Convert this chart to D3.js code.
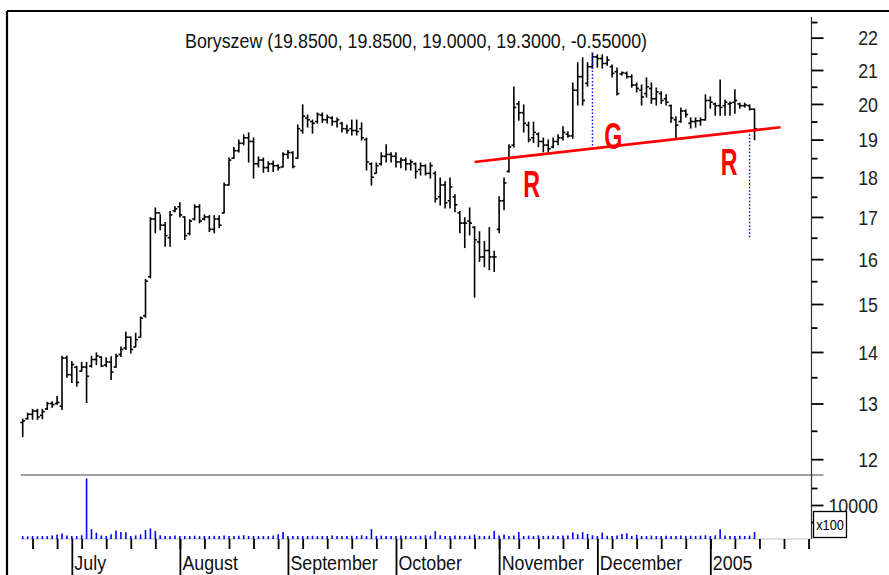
<!DOCTYPE html>
<html>
<head>
<meta charset="utf-8">
<script src="https://cdn.jsdelivr.net/npm/d3@7"></script>
<style>
  body { margin: 0; background: #fff; }
  svg { display: block; font-family: "Liberation Sans", Arial, sans-serif; }
  .axis path.domain { display: none; }
</style>
</head>
<body>
<div id="chart"></div>
<script>
var svgWidth = 889;
var svgHeight = 575;

var titleText = "Boryszew (19.8500, 19.8500, 19.0000, 19.3000, -0.55000)";

// trading days: weekdays from 17 Jun 2004, without Polish market holidays
var firstDay = new Date(2004, 5, 17);
var lastAxisDay = new Date(2005, 0, 31);
var holidays = ["2004-11-01", "2004-11-11"];

var monthLabels = ["July", "August", "September", "October", "November", "December", "2005"];
var priceTicks = [12, 13, 14, 15, 16, 17, 18, 19, 20, 21, 22];
var priceMinor = [12.5, 13.5, 14.5, 15.5, 16.5, 17.5, 18.5, 19.5, 20.5, 21.5, 22.5];
var volTicks = [10000];
var volMinor = [5000, 15000];

var open = [
  12.65, 12.72, 12.80, 12.86, 12.78, 12.90, 13.00, 13.00, 12.95, 13.88,
  13.55, 13.70, 13.62, 13.70, 13.72, 13.85, 13.90, 13.74, 13.80, 13.70,
  13.95, 14.08, 14.30, 14.10, 14.30, 14.75, 15.60, 16.95, 17.10, 16.80,
  16.50, 17.15, 17.25, 17.00, 16.60, 16.95, 17.25, 16.95, 17.00, 16.70,
  16.95, 17.10, 17.80, 18.50, 18.70, 18.90, 19.05, 18.95, 18.35, 18.45,
  18.25, 18.35, 18.30, 18.27, 18.60, 18.65, 18.50, 19.25, 19.60, 19.50,
  19.50, 19.68, 19.55, 19.60, 19.50, 19.45, 19.30, 19.30, 19.25, 19.30,
  19.00, 18.35, 18.10, 18.35, 18.55, 18.60, 18.55, 18.40, 18.45, 18.35,
  18.35, 18.20, 18.30, 18.10, 18.10, 17.50, 17.80, 17.40, 17.50, 17.10,
  16.85, 16.90, 16.75, 16.40, 16.05, 16.20, 16.05, 16.70, 17.40, 18.15,
  18.85, 20.00, 19.75, 19.40, 19.05, 19.15, 18.95, 18.85, 18.80, 18.95,
  19.05, 19.15, 19.10, 20.40, 20.80, 20.60, 21.10, 21.40, 21.35, 21.20,
  21.10, 20.95, 20.88, 20.90, 20.80, 20.55, 20.40, 20.30, 20.45, 20.15,
  20.30, 20.15, 19.95, 19.55, 19.50, 19.80, 19.45, 19.50, 19.52, 19.55,
  20.10, 20.00, 19.95, 19.95, 20.00, 20.05, 20.00, 19.95, 19.95, 19.85
];
var high = [
  12.71, 12.82, 12.89, 12.89, 12.89, 13.02, 13.03, 13.13, 13.91, 13.91,
  13.81, 13.71, 13.79, 13.79, 13.91, 13.98, 13.90, 13.88, 13.90, 13.95,
  14.10, 14.40, 14.30, 14.38, 14.72, 15.54, 16.98, 17.22, 17.05, 16.86,
  17.13, 17.25, 17.35, 17.00, 16.93, 17.30, 17.30, 17.05, 17.03, 17.03,
  17.03, 17.85, 18.50, 18.78, 18.99, 19.13, 19.18, 19.04, 18.53, 18.50,
  18.40, 18.42, 18.32, 18.64, 18.70, 18.67, 19.40, 19.97, 19.68, 19.54,
  19.74, 19.74, 19.68, 19.63, 19.60, 19.48, 19.40, 19.54, 19.54, 19.46,
  19.04, 18.37, 18.37, 18.64, 18.86, 18.64, 18.64, 18.50, 18.50, 18.45,
  18.37, 18.37, 18.32, 18.37, 18.14, 17.98, 17.88, 17.98, 17.55, 17.13,
  16.98, 17.22, 16.76, 16.64, 16.41, 16.74, 16.18, 17.50, 17.98, 18.86,
  20.49, 20.07, 19.97, 19.48, 19.48, 19.18, 19.04, 18.99, 19.04, 19.13,
  19.35, 19.21, 20.61, 21.22, 21.37, 21.22, 21.52, 21.46, 21.46, 21.40,
  21.15, 21.06, 20.94, 20.94, 20.85, 20.61, 20.55, 20.76, 20.61, 20.46,
  20.35, 20.26, 19.97, 19.63, 19.88, 19.83, 19.60, 19.60, 19.60, 20.26,
  20.20, 20.02, 20.70, 20.11, 20.05, 20.41, 20.02, 20.02, 19.97, 19.85
];
var low = [
  12.40, 12.71, 12.71, 12.71, 12.72, 12.89, 12.93, 12.99, 12.89, 13.50,
  13.40, 13.33, 13.62, 13.02, 13.70, 13.75, 13.71, 13.71, 13.46, 13.70,
  13.91, 14.05, 13.98, 14.11, 14.30, 14.72, 15.58, 16.62, 16.69, 16.30,
  16.30, 17.13, 17.00, 16.46, 16.57, 16.93, 16.86, 16.93, 16.65, 16.62,
  16.74, 17.10, 17.80, 18.50, 18.67, 18.86, 18.40, 17.98, 18.27, 18.13,
  18.15, 18.15, 18.19, 18.27, 18.50, 18.25, 18.50, 19.18, 19.35, 19.18,
  19.46, 19.48, 19.46, 19.40, 19.35, 19.21, 19.18, 19.13, 19.13, 18.99,
  18.19, 17.80, 18.11, 18.32, 18.40, 18.40, 18.27, 18.25, 18.19, 18.19,
  17.98, 18.06, 18.06, 17.98, 17.37, 17.30, 17.22, 17.22, 17.13, 16.62,
  16.27, 16.57, 15.15, 15.95, 15.83, 15.76, 15.72, 16.62, 17.18, 18.14,
  18.80, 19.54, 19.21, 18.94, 18.92, 18.81, 18.67, 18.64, 18.78, 18.86,
  18.99, 19.07, 19.04, 19.97, 19.97, 20.52, 21.06, 21.09, 21.06, 21.15,
  20.79, 20.26, 20.85, 20.76, 20.49, 20.35, 19.97, 20.20, 20.02, 19.97,
  20.02, 19.97, 19.48, 19.04, 19.48, 19.63, 19.32, 19.35, 19.40, 19.54,
  19.88, 19.68, 19.68, 19.68, 19.68, 19.74, 19.88, 19.91, 19.83, 19.00
];
var close = [
  12.68, 12.80, 12.86, 12.75, 12.85, 13.00, 12.98, 13.02, 13.88, 13.55,
  13.75, 13.40, 13.70, 13.52, 13.85, 13.92, 13.72, 13.80, 13.60, 13.92,
  14.05, 14.30, 14.05, 14.25, 14.70, 15.50, 16.95, 17.10, 16.80, 16.55,
  17.05, 17.20, 17.05, 16.55, 16.90, 17.25, 16.90, 17.00, 16.70, 16.95,
  16.80, 17.80, 18.45, 18.70, 18.90, 19.05, 18.95, 18.35, 18.45, 18.25,
  18.35, 18.30, 18.25, 18.60, 18.65, 18.28, 19.30, 19.65, 19.55, 19.45,
  19.70, 19.55, 19.62, 19.50, 19.55, 19.30, 19.25, 19.25, 19.22, 19.05,
  18.40, 18.00, 18.30, 18.55, 18.60, 18.55, 18.40, 18.45, 18.35, 18.40,
  18.15, 18.30, 18.10, 18.30, 17.45, 17.80, 17.35, 17.75, 17.30, 16.85,
  16.85, 16.85, 16.45, 16.05, 16.20, 16.05, 16.05, 17.40, 17.85, 18.80,
  19.90, 19.75, 19.45, 19.00, 19.20, 18.95, 18.85, 18.75, 18.95, 19.05,
  19.20, 19.10, 20.40, 20.80, 20.10, 21.10, 21.40, 21.35, 21.20, 21.30,
  20.90, 20.30, 20.92, 20.80, 20.55, 20.45, 20.20, 20.50, 20.15, 20.35,
  20.10, 20.05, 19.60, 19.40, 19.80, 19.70, 19.50, 19.52, 19.55, 20.10,
  20.05, 19.95, 19.90, 20.05, 20.02, 20.10, 19.95, 19.97, 19.85, 19.30
];
// volume in x100 shares
var volume = [
  850, 780, 900, 820, 880, 860, 1000, 1350, 1650, 1050,
  880, 900, 1100, 17800, 2900, 1850, 1050, 880, 1400, 2500,
  2050, 2000, 900, 1050, 1300, 2650, 3100, 2350, 1100, 880,
  880, 1000, 850, 900, 880, 950, 860, 900, 880, 920,
  850, 1000, 900, 880, 950, 1100, 900, 870, 900, 880,
  860, 1000, 1400, 2050, 900, 880, 860, 900, 880, 950,
  870, 900, 880, 1000, 860, 900, 880, 950, 870, 1100,
  900, 2900, 900, 1000, 870, 900, 880, 1000, 900, 860,
  900, 950, 1100, 1000, 2300, 1100, 900, 880, 1000, 950,
  900, 1000, 1300, 900, 880, 950, 2350, 1000, 1300, 900,
  1050, 2050, 900, 1000, 880, 1100, 900, 950, 1000, 880,
  1000, 1050, 1900, 1400, 2000, 1500, 1100, 900, 1900, 950,
  900, 1000, 1500, 1700, 900, 1200, 880, 900, 1000, 880,
  900, 950, 900, 880, 1000, 900, 950, 880, 1000, 1100,
  900, 1100, 2900, 1000, 900, 880, 950, 900, 1000, 2050
];

// head & shoulders annotation (bar index, price)
var neckline = [[92, 18.40], [154.3, 19.34]];
var headDrop = [116, 21.52];
var targetDrop = [148, 16.50];
var patternLabels = [
  { text: "R", i: 101.9, price: 17.49 },
  { text: "G", i: 118.4, price: 18.75 },
  { text: "R", i: 142.1, price: 18.06 }
];

var fmt = d3.timeFormat("%Y-%m-%d");
var dates = [];
for (var d = new Date(firstDay); d <= lastAxisDay; d.setDate(d.getDate() + 1)) {
  var dow = d.getDay();
  if (dow > 0 && dow < 6 && holidays.indexOf(fmt(d)) < 0) dates.push(new Date(d));
}
var bars = open.map(function(o, i) {
  return { i: i, open: o, high: high[i], low: low[i], close: close[i], vol: volume[i] };
});

var weekStarts = [];
var monthStarts = [];
dates.forEach(function(dt, i) {
  if (i > 0 && dt.getDay() < dates[i - 1].getDay()) weekStarts.push(i);
  if (i > 0 && dt.getMonth() != dates[i - 1].getMonth()) monthStarts.push(i);
});

var frameLeft = 7;
var frameTop = 11;
var axisX = 811.5;
var paneSplit = 475;
var volBase = 539;
var narrow = 0.85;  // the original uses a condensed face

var svg = d3.select("#chart")
  .append("svg")
  .attr("width", svgWidth)
  .attr("height", svgHeight);

var x = d3.scaleLinear()
  .domain([-3.2, 160.6])
  .range([frameLeft, axisX]);

var y = d3.scaleLog()
  .domain([11.73, 22.86])
  .range([paneSplit, frameTop]);

var yVol = d3.scaleLinear()
  .domain([0, 10000])
  .range([volBase, 505]);

// frame
svg.append("line")
  .attr("x1", frameLeft).attr("x2", svgWidth)
  .attr("y1", frameTop).attr("y2", frameTop)
  .attr("stroke", "#000").attr("stroke-width", 2.2);
svg.append("line")
  .attr("x1", frameLeft).attr("x2", frameLeft)
  .attr("y1", frameTop).attr("y2", svgHeight)
  .attr("stroke", "#000").attr("stroke-width", 2.2);

// pane separator and volume baseline
svg.append("line")
  .attr("x1", 21).attr("x2", axisX + 12)
  .attr("y1", paneSplit).attr("y2", paneSplit)
  .attr("stroke", "#444").attr("stroke-width", 1);
svg.append("line")
  .attr("x1", 21).attr("x2", axisX)
  .attr("y1", volBase).attr("y2", volBase)
  .attr("stroke", "#c0c0c0").attr("stroke-width", 1);

// right axis line
svg.append("line")
  .attr("x1", axisX).attr("x2", axisX)
  .attr("y1", 17).attr("y2", volBase)
  .attr("stroke", "#333").attr("stroke-width", 1.2);

// price and volume axes (ticks only, labels drawn condensed below)
[[y, priceTicks, 12], [y, priceMinor, 6], [yVol, volTicks, 12], [yVol, volMinor, 6]].forEach(function(a) {
  svg.append("g")
    .attr("class", "axis")
    .attr("transform", `translate(${axisX}, 0)`)
    .call(d3.axisRight(a[0]).tickValues(a[1]).tickSize(a[2]).tickFormat(""));
});

var axisLabels = priceTicks.map(v => ({ v: v, y: y(v) }))
  .concat(volTicks.map(v => ({ v: v, y: yVol(v) })));

svg.append("g").selectAll("text")
  .data(axisLabels)
  .enter()
  .append("text")
  .attr("transform", d => `translate(878, ${d.y}) scale(${narrow}, 1)`)
  .attr("dy", "0.36em")
  .attr("text-anchor", "end")
  .attr("fill", "#222")
  .style("font-size", "21px")
  .text(d => d.v);

// x100 box
svg.append("rect")
  .attr("x", 813.5).attr("y", 511.5)
  .attr("width", 33).attr("height", 26)
  .attr("fill", "#fff").attr("stroke", "#000").attr("stroke-width", 1.3);
svg.append("text")
  .attr("transform", `translate(830, 530) scale(${narrow}, 1)`)
  .attr("text-anchor", "middle")
  .style("font-size", "15px")
  .text("x100");

// time axis
svg.append("g")
  .attr("class", "axis")
  .attr("transform", `translate(0, ${volBase})`)
  .call(d3.axisBottom(x).tickValues(weekStarts).tickSize(10).tickFormat(""));
svg.append("g")
  .attr("class", "axis")
  .attr("transform", `translate(0, ${volBase})`)
  .call(d3.axisBottom(x).tickValues(monthStarts).tickSize(40).tickFormat(""));
svg.selectAll(".axis line").attr("stroke", "#000").attr("stroke-width", 1.8);

svg.append("g").selectAll("text")
  .data(monthStarts)
  .enter()
  .append("text")
  .attr("transform", d => `translate(${x(d) + 2.5}, 570) scale(${narrow}, 1)`)
  .attr("fill", "#111")
  .style("font-size", "21px")
  .text((d, k) => monthLabels[k]);

// title
svg.append("text")
  .attr("transform", `translate(416, 48) scale(${narrow}, 1)`)
  .attr("text-anchor", "middle")
  .attr("fill", "#111")
  .style("font-size", "21px")
  .text(titleText);

// volume bars
svg.append("g").selectAll("line")
  .data(bars)
  .enter()
  .append("line")
  .attr("x1", d => x(d.i)).attr("x2", d => x(d.i))
  .attr("y1", yVol(0)).attr("y2", d => yVol(d.vol))
  .attr("stroke", "#0000ff")
  .attr("stroke-width", 1.6);

// OHLC bars
var ohlc = svg.append("g")
  .attr("stroke", "#000")
  .attr("stroke-width", 1.6);

ohlc.selectAll(".hl")
  .data(bars)
  .enter()
  .append("line")
  .attr("class", "hl")
  .attr("x1", d => x(d.i)).attr("x2", d => x(d.i))
  .attr("y1", d => y(d.high) - 0.6).attr("y2", d => y(d.low) + 0.6);

ohlc.selectAll(".op")
  .data(bars)
  .enter()
  .append("line")
  .attr("class", "op")
  .attr("x1", d => x(d.i) - 2.4).attr("x2", d => x(d.i))
  .attr("y1", d => y(d.open)).attr("y2", d => y(d.open));

ohlc.selectAll(".cl")
  .data(bars)
  .enter()
  .append("line")
  .attr("class", "cl")
  .attr("x1", d => x(d.i)).attr("x2", d => x(d.i) + 2.4)
  .attr("y1", d => y(d.close)).attr("y2", d => y(d.close));

// neckline and projections
var neckAt = function(i) {
  var t = (i - neckline[0][0]) / (neckline[1][0] - neckline[0][0]);
  return Math.exp(Math.log(neckline[0][1]) + t * (Math.log(neckline[1][1]) - Math.log(neckline[0][1])));
};

svg.append("line")
  .attr("x1", x(headDrop[0])).attr("x2", x(headDrop[0]))
  .attr("y1", y(headDrop[1])).attr("y2", y(neckAt(headDrop[0])))
  .attr("stroke", "#0000ff").attr("stroke-width", 1.4)
  .attr("stroke-dasharray", "1.5,2");
svg.append("line")
  .attr("x1", x(targetDrop[0])).attr("x2", x(targetDrop[0]))
  .attr("y1", y(neckAt(targetDrop[0]))).attr("y2", y(targetDrop[1]))
  .attr("stroke", "#0000ff").attr("stroke-width", 1.4)
  .attr("stroke-dasharray", "1.5,2");

svg.append("line")
  .attr("x1", x(neckline[0][0])).attr("y1", y(neckline[0][1]))
  .attr("x2", x(neckline[1][0])).attr("y2", y(neckline[1][1]))
  .attr("stroke", "#ff0000")
  .attr("stroke-width", 2.6);

svg.append("g").selectAll("text")
  .data(patternLabels)
  .enter()
  .append("text")
  .attr("transform", d => `translate(${x(d.i)}, ${y(d.price)}) scale(0.83, 1.33)`)
  .attr("fill", "#ff0000")
  .style("font-size", "28px")
  .style("font-weight", "bold")
  .text(d => d.text);
</script>
</body>
</html>
